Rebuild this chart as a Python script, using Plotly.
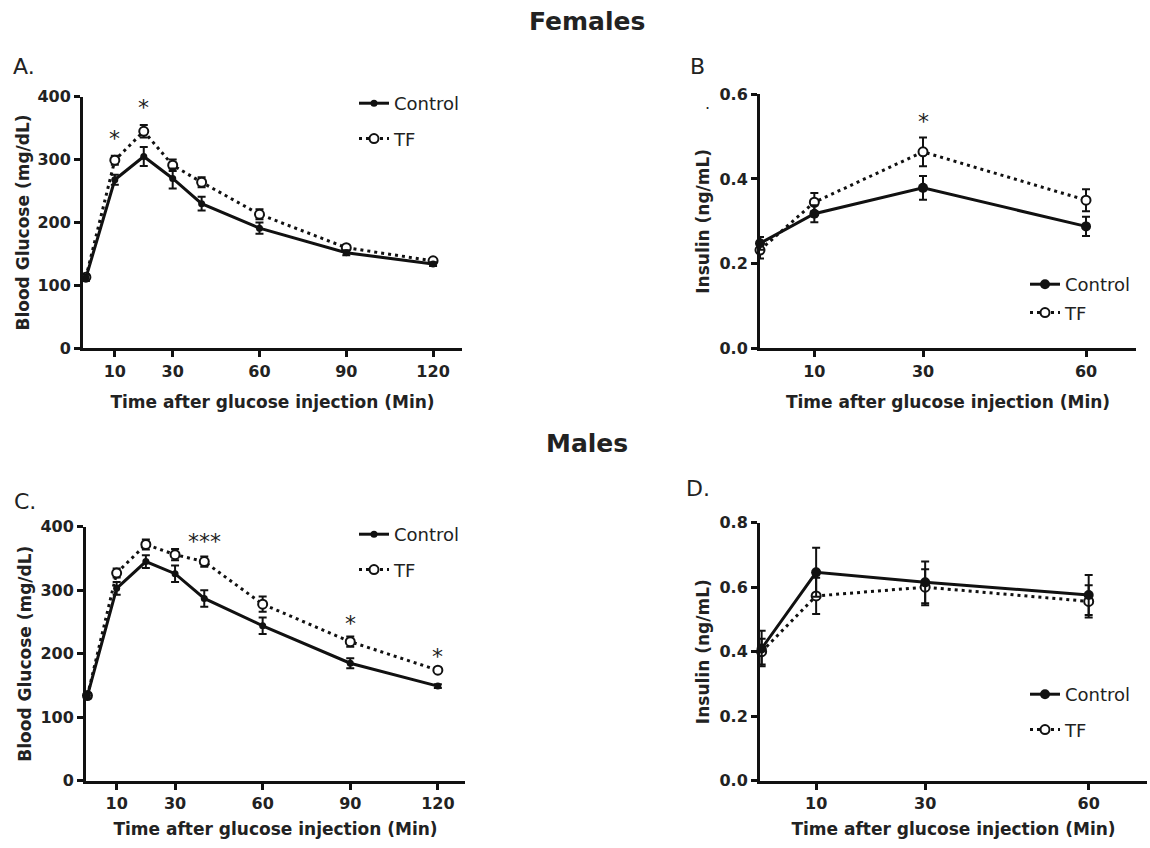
import plotly.graph_objects as go

# ---------------- data ----------------
time_glucose = [0, 10, 20, 30, 40, 60, 90, 120]
time_insulin = [0, 10, 30, 60]

# A. Females - blood glucose
ctrl_A = [112, 268, 305, 270, 230, 191, 152, 134]
ctrl_A_err = [5, 8, 15, 16, 11, 9, 4, 3]
tf_A = [113, 299, 345, 291, 264, 213, 160, 139]
tf_A_err = [4, 7, 10, 9, 8, 8, 4, 3]

# B. Females - insulin
ctrl_B = [0.248, 0.318, 0.379, 0.288]
ctrl_B_err = [0.015, 0.020, 0.028, 0.023]
tf_B = [0.232, 0.345, 0.464, 0.350]
tf_B_err = [0.020, 0.022, 0.034, 0.026]

# C. Males - blood glucose
ctrl_C = [134, 303, 345, 326, 287, 244, 185, 149]
ctrl_C_err = [4, 10, 10, 13, 13, 13, 8, 3]
tf_C = [134, 327, 372, 356, 345, 278, 219, 174]
tf_C_err = [4, 7, 8, 9, 8, 12, 8, 3]

# D. Males - insulin
ctrl_D = [0.410, 0.646, 0.615, 0.576]
ctrl_D_err = [0.055, 0.076, 0.065, 0.062]
tf_D = [0.400, 0.573, 0.600, 0.556]
tf_D_err = [0.040, 0.056, 0.056, 0.050]

# significance marks
star_A_x = [10, 20]
star_A_y = [339, 387]
star_A_t = ["*", "*"]
star_B_x = [30]
star_B_y = [0.544]
star_B_t = ["*"]
star_C_x = [40, 90, 120]
star_C_y = [381, 253, 201]
star_C_t = ["***", "*", "*"]

glucose_ticks = [10, 30, 60, 90, 120]
insulin_ticks = [10, 30, 60]

series_names = ["Control", "TF"]
section_titles = ["Females", "Males"]
panel_labels = ["A.", "B", "C.", "D."]
x_title = "Time after glucose injection (Min)"
y_title_glucose = "Blood Glucose (mg/dL)"
y_title_insulin = "Insulin (ng/mL)"

# ---------------- figure ----------------
W, H = 1150, 848
FONT = "DejaVu Sans"
fig = go.Figure()

panels = [
    ("x", "y", "legend", time_glucose, ctrl_A, ctrl_A_err, tf_A, tf_A_err, 7),
    ("x2", "y2", "legend2", time_insulin, ctrl_B, ctrl_B_err, tf_B, tf_B_err, 10),
    ("x3", "y3", "legend3", time_glucose, ctrl_C, ctrl_C_err, tf_C, tf_C_err, 7),
    ("x4", "y4", "legend4", time_insulin, ctrl_D, ctrl_D_err, tf_D, tf_D_err, 10),
]

for i, (xa, ya, lg, t, c, ce, f, fe, msz) in enumerate(panels):
    fig.add_trace(go.Scatter(
        x=t, y=f, mode="lines+markers", name=series_names[1],
        xaxis=xa, yaxis=ya, legend=lg, legendgroup=f"tf{i}", legendrank=2,
        line=dict(color="#111111", width=3, dash="3px,4px"),
        marker=dict(symbol="circle", size=9, color="white",
                    line=dict(color="#111111", width=2)),
        error_y=dict(type="data", array=fe, color="#111111", thickness=2, width=4),
        cliponaxis=False,
    ))
    fig.add_trace(go.Scatter(
        x=t, y=c, mode="lines+markers", name=series_names[0],
        xaxis=xa, yaxis=ya, legend=lg, legendgroup=f"c{i}", legendrank=1,
        line=dict(color="#111111", width=3),
        marker=dict(symbol="circle", size=msz, color="#111111"),
        error_y=dict(type="data", array=ce, color="#111111", thickness=2, width=4),
        cliponaxis=False,
    ))

def xdom(a, b):
    return [a / W, b / W]

def ydom(top, bottom):
    return [(H - bottom) / H, (H - top) / H]

axis_common = dict(
    showline=True, linecolor="#111111", linewidth=3, mirror=False,
    ticks="outside", ticklen=6, tickwidth=3, tickcolor="#111111",
    showgrid=False, zeroline=False, automargin=False,
    tickfont=dict(family=FONT, size=16, color="#222222", weight="bold"),
    title_font=dict(family=FONT, size=17, color="#222222", weight="bold"),
)

fig.update_layout(
    xaxis=dict(domain=xdom(83, 462), range=[-1, 130], tickvals=glucose_ticks,
               anchor="y", title=dict(text=x_title, standoff=17), **axis_common),
    yaxis=dict(domain=ydom(96.7, 348.3), range=[0, 400], tickvals=[0, 100, 200, 300, 400],
               anchor="x", title=dict(text=y_title_glucose, standoff=4), **axis_common),
    xaxis2=dict(domain=xdom(760, 1136), range=[0, 69.2], tickvals=insulin_ticks,
                anchor="y2", title=dict(text=x_title, standoff=17), **axis_common),
    yaxis2=dict(domain=ydom(94.3, 348.3), range=[0, 0.6], tickvals=[0, 0.2, 0.4, 0.6],
                tickformat=".1f", anchor="x2",
                title=dict(text=y_title_insulin, standoff=6), **axis_common),
    xaxis3=dict(domain=xdom(86, 465), range=[-0.5, 129.3], tickvals=glucose_ticks,
                anchor="y3", title=dict(text=x_title, standoff=12), **axis_common),
    yaxis3=dict(domain=ydom(526.7, 780.7), range=[0, 400], tickvals=[0, 100, 200, 300, 400],
                anchor="x3", title=dict(text=y_title_glucose, standoff=5), **axis_common),
    xaxis4=dict(domain=xdom(760, 1147), range=[-0.3, 70.7], tickvals=insulin_ticks,
                anchor="y4", title=dict(text=x_title, standoff=12), **axis_common),
    yaxis4=dict(domain=ydom(522.7, 780.7), range=[0, 0.8], tickvals=[0, 0.2, 0.4, 0.6, 0.8],
                tickformat=".1f", anchor="x4",
                title=dict(text=y_title_insulin, standoff=6), **axis_common),
)

legend_common = dict(
    xanchor="left", yanchor="top", bgcolor="rgba(0,0,0,0)", borderwidth=0,
    font=dict(family=FONT, size=18, color="#222222"),
    tracegroupgap=9, itemclick=False, itemdoubleclick=False,
)
fig.update_layout(
    legend=dict(x=354 / W, y=(H - 85) / H, **legend_common),
    legend2=dict(x=1025 / W, y=(H - 266) / H, **{**legend_common, "tracegroupgap": 2}),
    legend3=dict(x=354 / W, y=(H - 516) / H, **legend_common),
    legend4=dict(x=1025 / W, y=(H - 676) / H, **legend_common),
)

annotations = []
for (xr, yr, xs, ys, ts) in [("x", "y", star_A_x, star_A_y, star_A_t),
                             ("x2", "y2", star_B_x, star_B_y, star_B_t),
                             ("x3", "y3", star_C_x, star_C_y, star_C_t)]:
    for sx, sy, st in zip(xs, ys, ts):
        annotations.append(dict(
            x=sx, y=sy, xref=xr, yref=yr, text=st, showarrow=False,
            font=dict(family=FONT, size=22, color="#222222"),
            xanchor="center", yanchor="middle", yshift=-3,
        ))

annotations.append(dict(x=587 / W, y=(H - 22) / H, xref="paper", yref="paper",
                        text=section_titles[0], showarrow=False,
                        font=dict(family=FONT, size=25, color="#222222", weight="bold"),
                        xanchor="center", yanchor="middle"))
annotations.append(dict(x=587 / W, y=(H - 443) / H, xref="paper", yref="paper",
                        text=section_titles[1], showarrow=False,
                        font=dict(family=FONT, size=25, color="#222222", weight="bold"),
                        xanchor="center", yanchor="middle"))

for lbl, px, py in zip(panel_labels, [11, 688, 12, 684], [67, 66, 501, 489]):
    annotations.append(dict(x=px / W, y=(H - py) / H, xref="paper", yref="paper",
                            text=lbl, showarrow=False,
                            font=dict(family=FONT, size=22, color="#222222"),
                            xanchor="left", yanchor="middle"))
annotations.append(dict(x=707 / W, y=(H - 104) / H, xref="paper", yref="paper",
                        text=".", showarrow=False,
                        font=dict(family=FONT, size=16, color="#222222"),
                        xanchor="center", yanchor="middle"))

fig.update_layout(
    annotations=annotations,
    width=W, height=H, autosize=False,
    margin=dict(l=0, r=0, t=0, b=0, autoexpand=False),
    paper_bgcolor="white", plot_bgcolor="white",
    font=dict(family=FONT, color="#222222"),
    showlegend=True,
)

post_js = (
    "document.documentElement.style.margin='0';"
    "document.documentElement.style.overflow='hidden';"
    "document.body.style.margin='0';"
    "document.body.style.overflow='hidden';"
)

fig.write_html(
    "out.html",
    config={"displayModeBar": False},
    post_script=post_js,
)
